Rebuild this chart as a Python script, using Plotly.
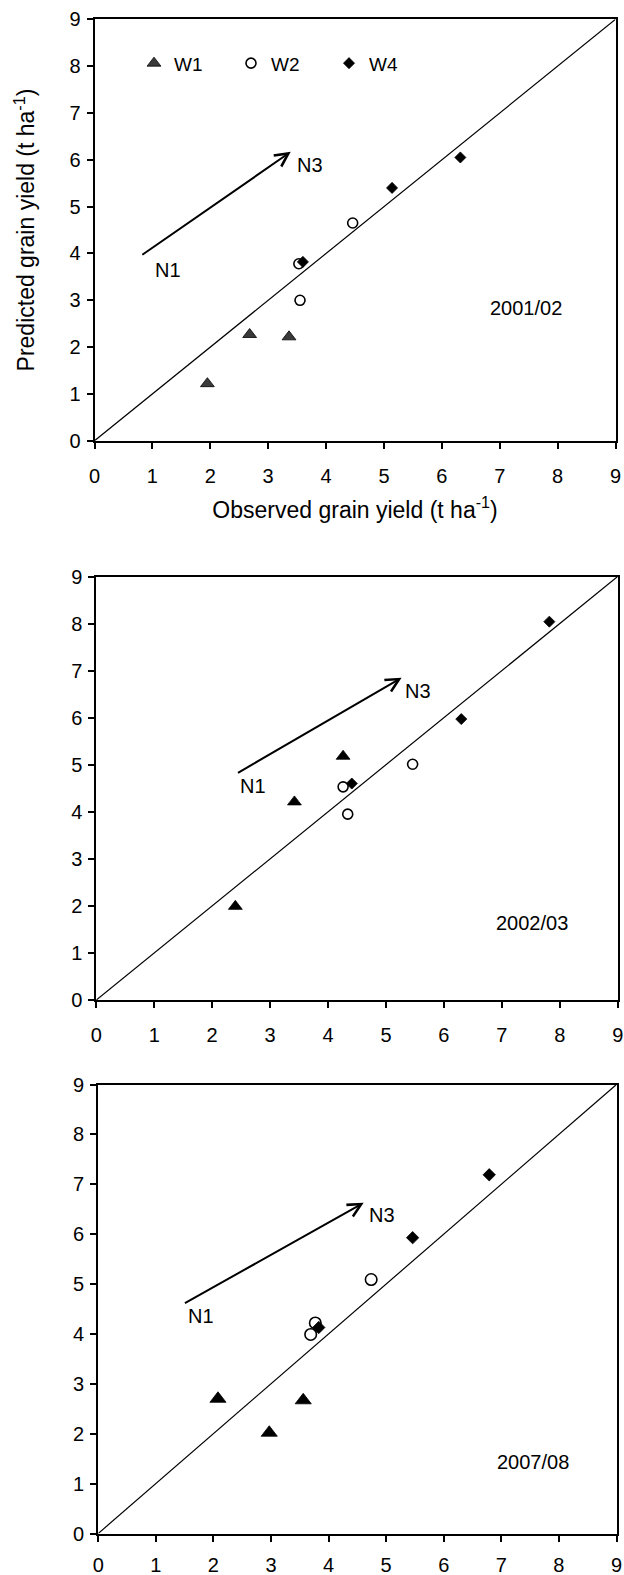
import plotly.graph_objects as go

# ---------------- data ----------------
years = ["2001/02", "2002/03", "2007/08"]

# 2001/02
p1_w1_obs = [1.95, 2.68, 3.36]
p1_w1_pred = [1.22, 2.27, 2.22]
p1_w2_obs = [3.53, 3.55, 4.46]
p1_w2_pred = [3.78, 3.00, 4.65]
p1_w4_obs = [3.60, 5.14, 6.32]
p1_w4_pred = [3.82, 5.40, 6.05]

# 2002/03
p2_w1_obs = [2.40, 3.42, 4.26]
p2_w1_pred = [1.99, 4.21, 5.18]
p2_w2_obs = [4.26, 4.34, 5.46]
p2_w2_pred = [4.53, 3.95, 5.01]
p2_w4_obs = [4.41, 6.30, 7.82]
p2_w4_pred = [4.60, 5.97, 8.04]

# 2007/08
p3_w1_obs = [2.08, 2.97, 3.56]
p3_w1_pred = [2.70, 2.02, 2.67]
p3_w2_obs = [3.77, 3.69, 4.74]
p3_w2_pred = [4.22, 3.99, 5.09]
p3_w4_obs = [3.83, 5.46, 6.79]
p3_w4_pred = [4.13, 5.93, 7.19]

# 1:1 line
one_to_one = [0, 9]

# N1 -> N3 arrows (start x, start y, end x, end y)
arrow_start_x = [0.80, 2.42, 1.48]
arrow_start_y = [3.95, 4.81, 4.60]
arrow_end_x = [3.39, 5.27, 4.61]
arrow_end_y = [6.17, 6.85, 6.63]

# label positions
n3_x = [3.72, 5.56, 4.92]
n3_y = [5.89, 6.57, 6.38]
n1_x = [1.27, 2.71, 1.78]
n1_y = [3.65, 4.55, 4.35]
year_x = [7.45, 7.52, 7.55]
year_y = [2.835, 1.63, 1.44]

tick_vals = list(range(0, 10))
tick_text = [str(v) for v in tick_vals]

series_names = ["W1", "W2", "W4"]

panels = [
    [(p1_w1_obs, p1_w1_pred), (p1_w2_obs, p1_w2_pred), (p1_w4_obs, p1_w4_pred)],
    [(p2_w1_obs, p2_w1_pred), (p2_w2_obs, p2_w2_pred), (p2_w4_obs, p2_w4_pred)],
    [(p3_w1_obs, p3_w1_pred), (p3_w2_obs, p3_w2_pred), (p3_w4_obs, p3_w4_pred)],
]

# ---------------- layout geometry (pixels) ----------------
W, H = 624, 1575
x_doms_px = [(94.5, 615.5), (96.3, 617.7), (98.2, 616.5)]
y_doms_px = [(19.3, 440.8), (576.5, 1000.0), (1084.5, 1533.5)]
x_label_standoff = [10, 10, 6]

FONT = "Liberation Sans, Arial, sans-serif"

fig = go.Figure()

tri_colors = ["#3a3a3a", "black", "black"]
tri_sizes = [12, 12, 14]
circ_sizes = [10, 10, 11.5]
dia_sizes = [8.5, 8.5, 9.5]

for i, panel in enumerate(panels):
    xa = "x" if i == 0 else f"x{i+1}"
    ya = "y" if i == 0 else f"y{i+1}"
    # 1:1 line
    fig.add_trace(go.Scatter(x=one_to_one, y=one_to_one, mode="lines",
                             line=dict(color="black", width=1.2),
                             xaxis=xa, yaxis=ya, showlegend=False,
                             hoverinfo="skip", cliponaxis=False))
    (w1x, w1y), (w2x, w2y), (w4x, w4y) = panel
    fig.add_trace(go.Scatter(
        x=w1x, y=w1y, mode="markers", name=series_names[0],
        marker=dict(symbol="triangle-up", size=tri_sizes[i], color=tri_colors[i],
                    line=dict(color="black", width=0.8)),
        xaxis=xa, yaxis=ya, showlegend=(i == 0), legend="legend",
        cliponaxis=False))
    fig.add_trace(go.Scatter(
        x=w2x, y=w2y, mode="markers", name=series_names[1],
        marker=dict(symbol="circle-open", size=circ_sizes[i], color="black",
                    line=dict(color="black", width=1.6)),
        xaxis=xa, yaxis=ya, showlegend=(i == 0), legend="legend2",
        cliponaxis=False))
    fig.add_trace(go.Scatter(
        x=w4x, y=w4y, mode="markers", name=series_names[2],
        marker=dict(symbol="diamond", size=dia_sizes[i], color="black",
                    line=dict(color="black", width=0.8)),
        xaxis=xa, yaxis=ya, showlegend=(i == 0), legend="legend3",
        cliponaxis=False))

    # arrow
    fig.add_annotation(
        x=arrow_end_x[i], y=arrow_end_y[i], ax=arrow_start_x[i], ay=arrow_start_y[i],
        xref=xa, yref=ya, axref=xa, ayref=ya, text="", showarrow=True,
        arrowhead=5, arrowsize=1.3, arrowwidth=2, arrowcolor="black")
    fig.add_annotation(x=n3_x[i], y=n3_y[i], xref=xa, yref=ya, text="N3",
                       showarrow=False, font=dict(family=FONT, size=20, color="black"))
    fig.add_annotation(x=n1_x[i], y=n1_y[i], xref=xa, yref=ya, text="N1",
                       showarrow=False, font=dict(family=FONT, size=20, color="black"))
    fig.add_annotation(x=year_x[i], y=year_y[i], xref=xa, yref=ya, text=years[i],
                       showarrow=False, font=dict(family=FONT, size=20, color="black"))

axis_common = dict(
    range=[0, 9], tickvals=tick_vals, ticktext=tick_text,
    showline=True, linecolor="black", linewidth=2, mirror=True,
    ticks="outside", ticklen=6, tickwidth=1.5, tickcolor="black",
    showgrid=False, zeroline=False, automargin=False, fixedrange=True,
    tickfont=dict(family=FONT, size=20, color="black"),
)

layout_axes = {}
for i in range(3):
    xk = "xaxis" if i == 0 else f"xaxis{i+1}"
    yk = "yaxis" if i == 0 else f"yaxis{i+1}"
    x0, x1 = x_doms_px[i]
    yt, yb = y_doms_px[i]
    xa = dict(axis_common, domain=[x0 / W, x1 / W],
              anchor="y" if i == 0 else f"y{i+1}", ticklabelstandoff=x_label_standoff[i])
    ya = dict(axis_common, domain=[1 - yb / H, 1 - yt / H],
              anchor="x" if i == 0 else f"x{i+1}", ticklabelstandoff=2)
    if i == 0:
        xa["title"] = dict(text="Observed grain yield (t ha<sup>-1</sup>)",
                           font=dict(family=FONT, size=23, color="black"), standoff=16)
        ya["title"] = dict(text="Predicted grain yield (t ha<sup>-1</sup>)",
                           font=dict(family=FONT, size=23, color="black"), standoff=28)
    layout_axes[xk] = xa
    layout_axes[yk] = ya

# legend entries (one legend per series, placed inside the first panel)
leg_marker_px = [154, 251, 349]
leg_y_px = 63.3
legend_common = dict(orientation="h", yanchor="middle", xanchor="left",
                     bgcolor="rgba(0,0,0,0)", borderwidth=0,
                     font=dict(family=FONT, size=19, color="black"),
                     itemwidth=30, tracegroupgap=0)
legends = {}
for j, key in enumerate(["legend", "legend2", "legend3"]):
    legends[key] = dict(legend_common, x=(leg_marker_px[j] - 20) / W, y=1 - leg_y_px / H)

fig.update_layout(
    width=W, height=H,
    margin=dict(l=0, r=0, t=0, b=0),
    paper_bgcolor="white", plot_bgcolor="white",
    font=dict(family=FONT, color="black"),
    **layout_axes,
    **legends,
)

fig.write_html("out.html")
